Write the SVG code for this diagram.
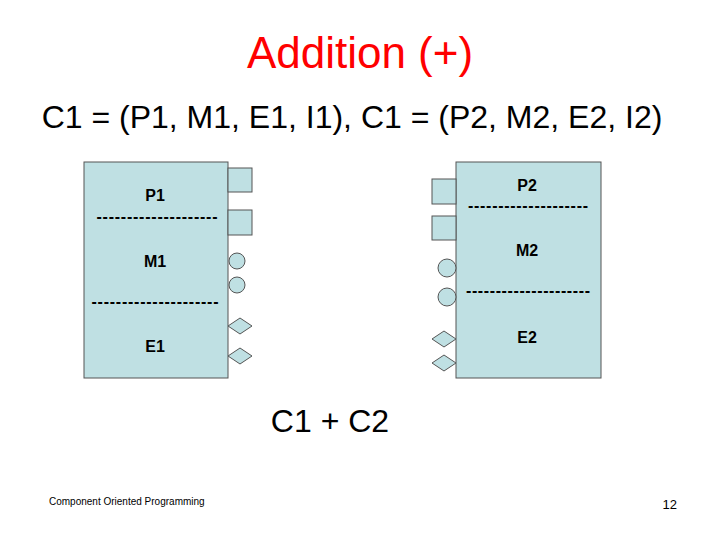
<svg xmlns="http://www.w3.org/2000/svg" width="720" height="540" viewBox="0 0 720 540">
<style>
.box{fill:#bfe0e3;stroke:#555;stroke-width:1}
.port{fill:#bfe0e3;stroke:#555;stroke-width:1}
.lbl{font-family:"Liberation Sans",Arial,sans-serif;font-weight:bold;font-size:16px;fill:#000;text-anchor:middle}
.t{font-family:"Liberation Sans",Arial,sans-serif;fill:#000}
</style>
<rect width="720" height="540" fill="#fff"/>
<text class="t" x="360" y="68" font-size="44" style="fill:#ff0000" text-anchor="middle">Addition (+)</text>
<text class="t" x="352" y="128" font-size="32" text-anchor="middle">C1 = (P1, M1, E1, I1), C1 = (P2, M2, E2, I2)</text>
<g id="C1">
<rect class="box" x="84" y="162" width="144" height="216"/>
<rect class="port" x="228" y="168" width="24" height="24"/>
<rect class="port" x="228" y="210" width="24" height="25"/>
<circle class="port" cx="237" cy="261" r="8"/>
<circle class="port" cx="237" cy="285" r="8"/>
<polygon class="port" points="228,326 240,318 252,326 240,334"/>
<polygon class="port" points="228,356 240,348 252,356 240,364"/>
<text class="lbl" x="155" y="201">P1</text>
<text class="lbl" x="157" y="222" textLength="121" lengthAdjust="spacing">--------------------</text>
<text class="lbl" x="155" y="267">M1</text>
<text class="lbl" x="155" y="307" textLength="127" lengthAdjust="spacing">---------------------</text>
<text class="lbl" x="155" y="352">E1</text>
</g>
<g id="C2">
<rect class="box" x="456" y="162" width="145" height="216"/>
<rect class="port" x="432" y="179" width="24" height="25"/>
<rect class="port" x="432" y="216" width="24" height="24"/>
<circle class="port" cx="447" cy="268" r="9"/>
<circle class="port" cx="447" cy="297" r="9"/>
<polygon class="port" points="432,339 444,331 456,339 444,347"/>
<polygon class="port" points="432,363 444,355 456,363 444,371"/>
<text class="lbl" x="527" y="191">P2</text>
<text class="lbl" x="528" y="211" textLength="120" lengthAdjust="spacing">--------------------</text>
<text class="lbl" x="527" y="256">M2</text>
<text class="lbl" x="528" y="296" textLength="124" lengthAdjust="spacing">---------------------</text>
<text class="lbl" x="527" y="343">E2</text>
</g>
<g id="connectors"></g>
<text class="t" x="330" y="432" font-size="32" text-anchor="middle">C1 + C2</text>
<text class="t" x="49" y="505" font-size="10">Component Oriented Programming</text>
<text class="t" x="677" y="509" font-size="13" text-anchor="end">12</text>
</svg>
